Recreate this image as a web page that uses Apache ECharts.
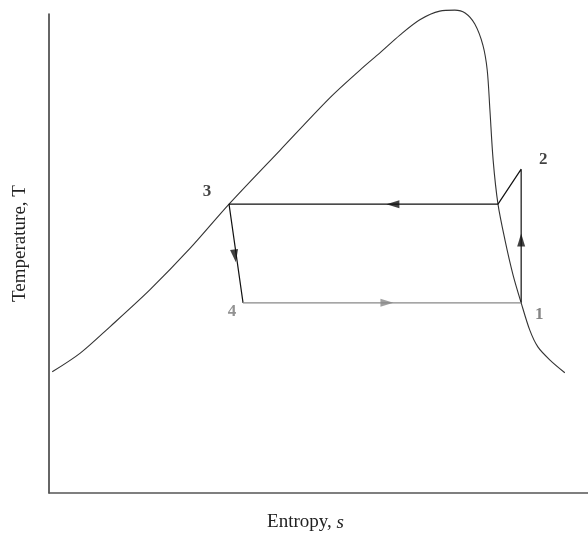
<!DOCTYPE html>
<html>
<head>
<meta charset="utf-8">
<script src="https://cdn.jsdelivr.net/npm/echarts@6/dist/echarts.min.js"></script>
<style>html,body{margin:0;padding:0;background:#fff;}#chart{width:588px;height:537px;}</style>
</head>
<body>
<div id="chart"></div>
<script>
// Saturation dome (entropy s, temperature T) in relative units
var domeS = [0.6, 5.8, 11.3, 18.7, 26.2, 33.4, 42.9, 52.1, 57.7, 61.4, 65.1, 68.8, 72.5, 75.3, 77.2, 79.0, 80.5, 81.3, 81.8, 82.4, 83.3, 84.6, 86.1, 87.6, 89.2, 90.7, 92.9, 95.7];
var domeT = [25.3, 29.2, 34.7, 42.4, 51.1, 60.3, 71.6, 82.5, 88.3, 91.9, 95.6, 98.8, 100.6, 100.8, 100.2, 97.9, 93.5, 88.3, 80.0, 69.5, 60.3, 52.8, 45.5, 39.7, 34.0, 30.5, 27.8, 25.1];

// Cycle states: 1, 2, saturated vapour at condenser pressure, 3, 4
var cycleNames = ['1', '2', '2s', '3', '4'];
var cycleS = [87.6, 87.6, 83.3, 33.4, 36.0];
var cycleT = [39.7, 67.6, 60.3, 60.3, 39.7];

// State labels shown on the diagram
var stateLabels = ['1', '2', '3', '4'];
var stateLabelS = [87.6, 87.6, 33.4, 36.0];
var stateLabelT = [39.7, 67.6, 60.3, 39.7];

// Flow-direction arrows
var arrowS = [87.6, 63.8, 34.5, 62.7];
var arrowT = [52.8, 60.3, 49.5, 39.7];
var arrowAngle = [0, 90, 188, 270];

var xName = 'Entropy, ';
var yName = 'Temperature, T';

var domeData = domeS.map(function (s, i) { return [s, domeT[i]]; });
var cyc = cycleS.map(function (s, i) { return [s, cycleT[i]]; });
var blackPath = [cyc[0], cyc[1], cyc[2], cyc[3], cyc[4]];
var greyPath = [cyc[4], cyc[0]];

var labelStyle = {
  '1': {offset: [18, 12], color: '#666'},
  '2': {offset: [22, -10], color: '#111'},
  '3': {offset: [-22, -13], color: '#111'},
  '4': {offset: [-11, 9], color: '#777'}
};

var chart = echarts.init(document.getElementById('chart'));
chart.setOption({
  animation: false,
  backgroundColor: '#fff',
  grid: {left: 49, right: 0, top: 14, bottom: 44},
  xAxis: {
    type: 'value', min: 0, max: 100,
    name: xName + '{i|s}', nameLocation: 'middle', nameGap: 20,
    nameTextStyle: {fontFamily: 'Liberation Serif', fontSize: 19, color: '#222', padding: [0, 26, 0, 0],
      rich: {i: {fontFamily: 'Liberation Serif', fontStyle: 'italic', fontSize: 19, color: '#222'}}},
    axisLine: {show: true, lineStyle: {color: '#555', width: 1.5}},
    axisTick: {show: false}, axisLabel: {show: false}, splitLine: {show: false}
  },
  yAxis: {
    type: 'value', min: 0, max: 100,
    name: yName, nameLocation: 'middle', nameGap: 19, nameRotate: 90,
    nameTextStyle: {fontFamily: 'Liberation Serif', fontSize: 19, color: '#222', padding: [0, 0, 0, 20]},
    axisLine: {show: true, lineStyle: {color: '#333', width: 1.5}},
    axisTick: {show: false}, axisLabel: {show: false}, splitLine: {show: false}
  },
  series: [
    {
      type: 'line', data: domeData, smooth: 0.3, symbol: 'none', clip: false,
      lineStyle: {color: '#333', width: 1.1}
    },
    {
      type: 'line', data: blackPath, symbol: 'none', clip: false,
      lineStyle: {color: '#111', width: 1.2}
    },
    {
      type: 'line', data: greyPath, symbol: 'none', clip: false,
      lineStyle: {color: '#888', width: 1.2}
    },
    {
      type: 'scatter', clip: false,
      data: arrowS.map(function (s, i) {
        return {value: [s, arrowT[i]], symbolRotate: arrowAngle[i],
          itemStyle: {color: i === 3 ? '#888' : '#111'}};
      }),
      symbol: 'triangle', symbolSize: [8, 13]
    },
    {
      type: 'scatter', clip: false, symbolSize: 0,
      data: stateLabels.map(function (t, i) {
        var st = labelStyle[t];
        return {value: [stateLabelS[i], stateLabelT[i]], name: t,
          label: {show: true, formatter: t, position: 'inside', offset: st.offset,
            color: st.color, fontFamily: 'Liberation Serif', fontWeight: 'bold', fontSize: 17}};
      })
    }
  ]
});
</script>
</body>
</html>
